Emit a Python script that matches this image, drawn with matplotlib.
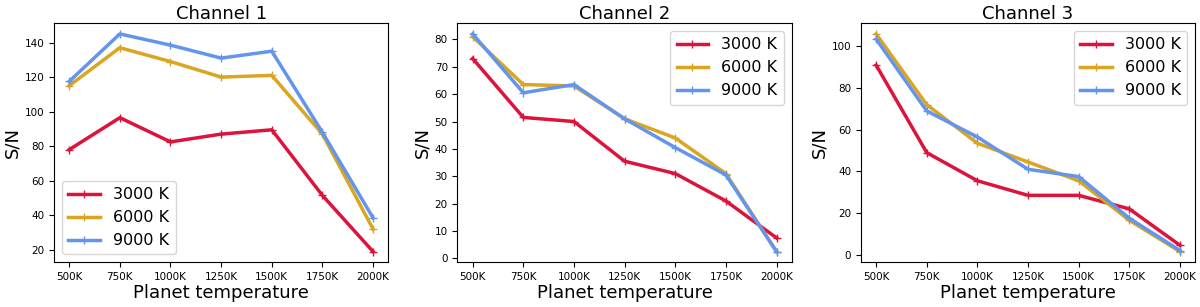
import matplotlib.pyplot as plt

temps = ["500K", "750K", "1000K", "1250K", "1500K", "1750K", "2000K"]
stars = ["3000 K", "6000 K", "9000 K"]
colors = ["crimson", "goldenrod", "cornflowerblue"]

ch1 = [
    [78, 96.5, 82.5, 87, 89.5, 51.5, 19],
    [115, 137, 129, 120, 121, 87, 32],
    [117.5, 145, 138.5, 131, 135, 88, 38.5],
]
ch2 = [
    [73, 51.5, 50, 35.5, 31, 21, 7.5],
    [81, 63.5, 63, 51, 44, 31, 2.5],
    [82, 60.5, 63.5, 51, 40.5, 30.5, 2.5],
]
ch3 = [
    [91, 49, 35.5, 28.5, 28.5, 22, 4.5],
    [106, 72, 53.5, 44.5, 35.5, 16.5, 1.5],
    [103.5, 69, 56.5, 41, 37.5, 17.5, 2],
]
channels = [("Channel 1", ch1, "lower left"),
            ("Channel 2", ch2, "upper right"),
            ("Channel 3", ch3, "upper right")]

fig, axes = plt.subplots(1, 3, figsize=(12, 3.07), dpi=100)
for ax, (title, data, loc) in zip(axes, channels):
    for series, name, c in zip(data, stars, colors):
        ax.plot(temps, series, color=c, lw=2.5, marker="+", ms=6, label=name)
    ax.set_title(title, fontsize=13, pad=3)
    ax.set_xlabel("Planet temperature", fontsize=13, labelpad=1)
    ax.set_ylabel("S/N", fontsize=13, labelpad=2)
    ax.tick_params(labelsize=7.5)
    ax.legend(loc=loc, fontsize=11.5, handlelength=2.0, labelspacing=0.5)

plt.subplots_adjust(left=0.045, right=0.996, top=0.925, bottom=0.145, wspace=0.207)
plt.savefig("out.png", dpi=100)
